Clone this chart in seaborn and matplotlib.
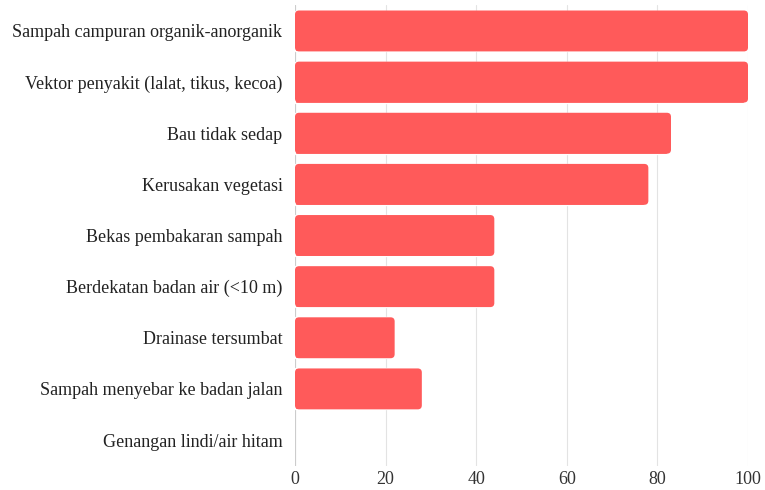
import matplotlib
matplotlib.use("Agg")
import matplotlib.pyplot as plt
import seaborn as sns
import pandas as pd
from matplotlib.patches import FancyBboxPatch

# ── Data ────────────────────────────────────────────────
categories = [
    "Sampah campuran organik-anorganik",
    "Vektor penyakit (lalat, tikus, kecoa)",
    "Bau tidak sedap",
    "Kerusakan vegetasi",
    "Bekas pembakaran sampah",
    "Berdekatan badan air (<10 m)",
    "Drainase tersumbat",
    "Sampah menyebar ke badan jalan",
    "Genangan lindi/air hitam",
]
values = [100, 100, 83, 78, 44, 44, 22, 28, 0]
x_ticks = [0, 20, 40, 60, 80, 100]

df = pd.DataFrame({"kategori": categories, "nilai": values})

sns.set_theme(style="white")
plt.rcParams['font.family'] = ['Liberation Serif', 'DejaVu Serif']

fig = plt.figure(figsize=(7.65, 4.9), dpi=100)
ax = fig.add_axes([0.3856, 0.0498, 0.5922, 0.9392])

bar_color = "#FF5A5A"
sns.barplot(data=df, x="nilai", y="kategori", color=bar_color,
            saturation=1, width=0.8, ax=ax, zorder=3)

# rounded bar ends
for p in list(ax.patches):
    x0, y0 = p.get_x(), p.get_y()
    w, h = p.get_width(), p.get_height()
    if w <= 0:
        p.remove()
        continue
    r = 0.9
    p.set_width(max(w - r, 0))
    rb = FancyBboxPatch((x0, y0), w, h,
                        boxstyle="round,pad=0,rounding_size=0.9",
                        mutation_aspect=0.089,
                        facecolor=bar_color, edgecolor="none", zorder=3)
    ax.add_patch(rb)

ax.set_xlim(0, 100)
ax.set_ylim(8.5, -0.5)
ax.set_xticks(x_ticks)
ax.set_xticklabels([str(t) for t in x_ticks])
ax.xaxis.grid(True, color="#e3e3e3", linewidth=0.8, zorder=0)
ax.set_axisbelow(True)

for s in ax.spines.values():
    s.set_visible(False)
ax.axvline(0, color="#cccccc", linewidth=0.8, zorder=1)

ax.set_xlabel("")
ax.set_ylabel("")
ax.tick_params(axis="y", length=0, pad=9, labelsize=13, labelcolor="#222222")
ax.tick_params(axis="x", length=0, pad=4, labelsize=13, labelcolor="#333333")

fig.savefig("out.png", dpi=100)
